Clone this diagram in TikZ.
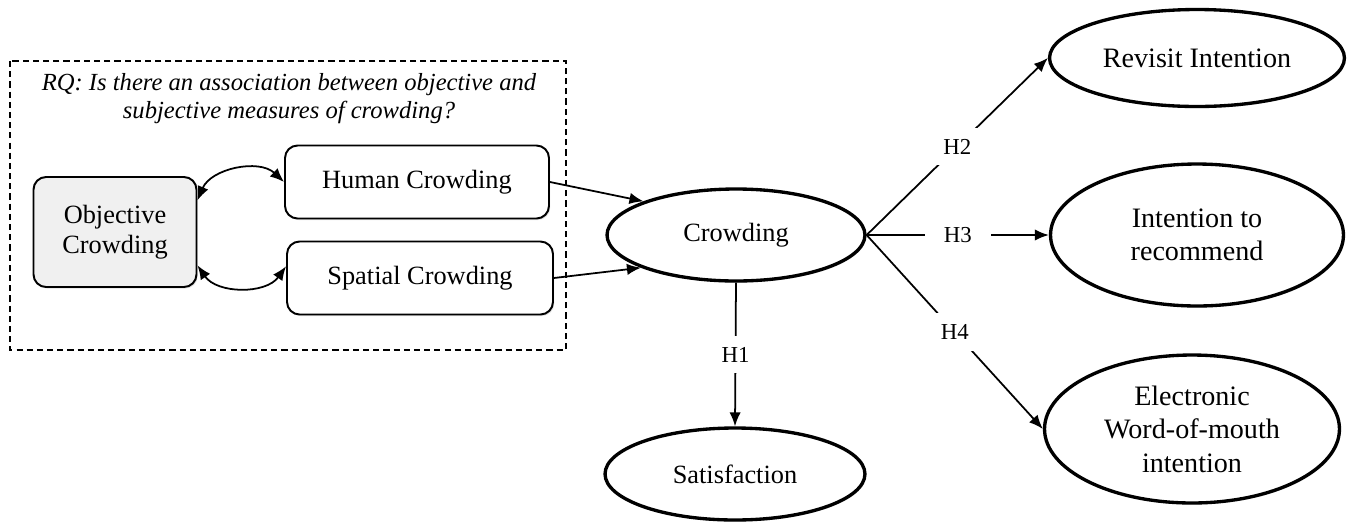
\documentclass[tikz,border=0pt]{standalone}
\usepackage{fontspec}
\setmainfont{Liberation Serif}
\usetikzlibrary{shapes.geometric,arrows.meta,shadows}

\begin{document}
\begin{tikzpicture}[x=0.02cm,y=-0.02cm,
  box/.style={draw,line width=1.1pt,rounded corners=0.25cm,fill=white,
    drop shadow={shadow xshift=0.7pt,shadow yshift=-0.9pt,opacity=0.25},
    font=\fontsize{15}{17}\selectfont,align=center,inner sep=0pt},
  construct/.style={ellipse,draw,line width=1.9pt,fill=white,
    drop shadow={shadow xshift=0.7pt,shadow yshift=-0.9pt,opacity=0.25},
    font=\fontsize{15}{17}\selectfont,align=center,inner sep=0pt},
  link/.style={line width=1pt,-{Latex[length=8pt,width=6.5pt]}},
  twoway/.style={line width=1pt,{Latex[length=8pt,width=6.5pt]}-{Latex[length=8pt,width=6.5pt]}},
  hyp/.style={fill=white,inner xsep=0.38cm,inner ysep=0.22cm,font=\fontsize{13}{15}\selectfont}]
\useasboundingbox (0,0) rectangle (1350,522);
% research question
\draw[line width=0.8pt,dash pattern=on 3.5pt off 2.3pt] (10,61) rectangle (566,350);
\node[font=\fontsize{14}{16}\selectfont\itshape,align=center] (rq) at (289,99)
  {RQ: Is there an association between objective and\\subjective measures of crowding?};
% measures
\node[box,fill=black!6,minimum width=3.26cm,minimum height=2.2cm] (objective) at (115,232) {Objective\\Crowding};
\node[box,minimum width=5.28cm,minimum height=1.46cm] (human) at (417,182) {Human Crowding};
\node[box,minimum width=5.32cm,minimum height=1.46cm] (spatial) at (420,278) {Spatial Crowding};
% constructs
\node[construct,minimum width=5.16cm,minimum height=1.84cm] (crowding) at (736,235) {Crowding};
\node[construct,minimum width=5.2cm,minimum height=1.84cm] (satisfaction) at (735,474) {Satisfaction};
\node[construct,font=\fontsize{16}{19}\selectfont,minimum width=5.9cm,minimum height=1.94cm] (revisit) at (1197,58) {Revisit Intention};
\node[construct,font=\fontsize{16}{19}\selectfont,minimum width=5.86cm,minimum height=2.84cm] (recommend) at (1197,235) {Intention to\\recommend};
\node[construct,font=\fontsize{16}{19}\selectfont,minimum width=5.9cm,minimum height=2.96cm] (ewom) at (1192,429) {Electronic\\Word-of-mouth\\intention};
% associations
\draw[twoway] (objective.21) to[bend left=55] (human.west);
\draw[twoway] (objective.-22) to[bend right=55] (spatial.175);
\draw[link] (human.east) -- (crowding.160);
\draw[link] (spatial.east) -- (crowding.199);
% hypotheses
\draw[link] (crowding.south) -- node[hyp] {H1} (satisfaction.north);
\draw[link] (crowding.east) -- node[hyp] {H2} (revisit.west);
\draw[link] (crowding.east) -- node[hyp] {H3} (recommend.west);
\draw[link] (crowding.east) -- node[hyp] {H4} (ewom.west);
\end{tikzpicture}
\end{document}
